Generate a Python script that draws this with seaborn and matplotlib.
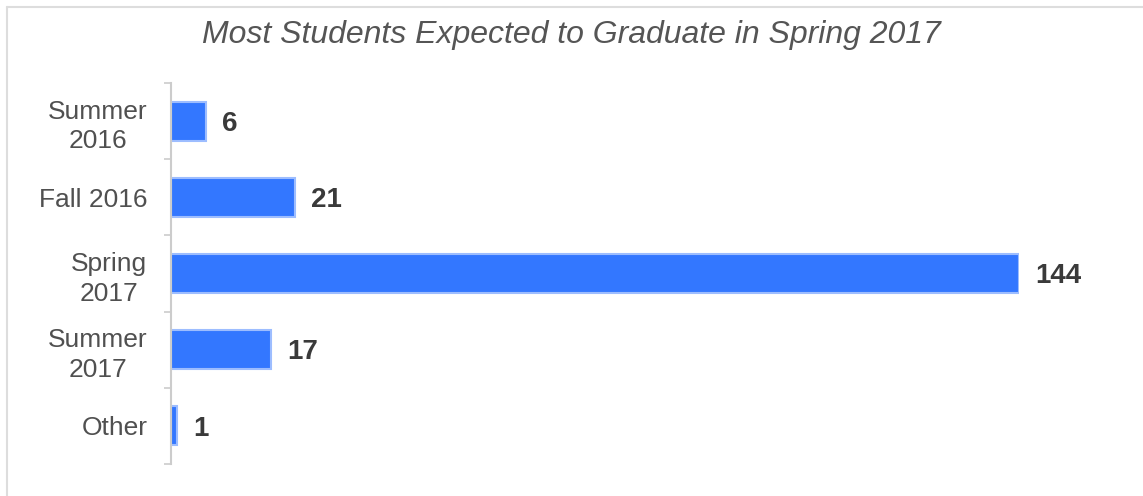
import numpy as np
import pandas as pd
import matplotlib
matplotlib.use("Agg")
import matplotlib.pyplot as plt
from matplotlib.lines import Line2D
import seaborn as sns

# data
terms = ["Summer\n2016", "Fall 2016", "Spring\n2017", "Summer\n2017", "Other"]
students = [6, 21, 144, 17, 1]

df = pd.DataFrame({"term": terms, "students": students})

sns.set_style("white")
plt.rcParams["font.family"] = ["Liberation Sans", "DejaVu Sans"]

fig = plt.figure(figsize=(11.43, 4.96), dpi=100)
ax = fig.add_axes([171 / 1143, 32 / 496, 848 / 1143, 381 / 496])

sns.barplot(data=df, x="students", y="term", order=terms, orient="h",
            color="#3377ff", saturation=1, width=0.51,
            edgecolor="#9dbdff", linewidth=1.5, ax=ax)

ax.set_xlim(0, 144)
ax.set_ylim(len(terms) - 0.5, -0.5)
ax.set_xlabel("")
ax.set_ylabel("")
ax.set_xticks([])

# labels centred on bars, small ticks on category boundaries
ax.set_yticks(range(len(terms)))
ax.set_yticklabels(terms, fontsize=19, color="#505050", multialignment="center",
                   linespacing=1.3)
ax.tick_params(axis="y", which="major", left=False, length=0, pad=17)
ax.set_yticks(np.arange(-0.5, len(terms), 1), minor=True)
ax.tick_params(axis="y", which="minor", left=True, length=5, width=1.2, color="#cccccc")

for side in ["top", "right", "bottom"]:
    ax.spines[side].set_visible(False)
ax.spines["left"].set_color("#cccccc")
ax.spines["left"].set_linewidth(1.5)

for i, v in enumerate(students):
    ax.annotate(str(v), xy=(v, i), xytext=(11.5, -2), textcoords="offset points",
                ha="left", va="center", fontsize=20, fontweight="bold",
                color="#3a3a3a", annotation_clip=False)

fig.text(0.5, 1 - 35 / 496, "Most Students Expected to Graduate in Spring 2017",
         ha="center", va="center", fontsize=23, style="italic", color="#555555")

# light frame along top and left edge
fig.add_artist(Line2D([7 / 1143, 1], [1 - 7 / 496, 1 - 7 / 496],
                      color="#dddddd", linewidth=1.5, transform=fig.transFigure))
fig.add_artist(Line2D([7 / 1143, 7 / 1143], [0, 1 - 7 / 496],
                      color="#dddddd", linewidth=1.5, transform=fig.transFigure))

fig.savefig("out.png", dpi=100)
